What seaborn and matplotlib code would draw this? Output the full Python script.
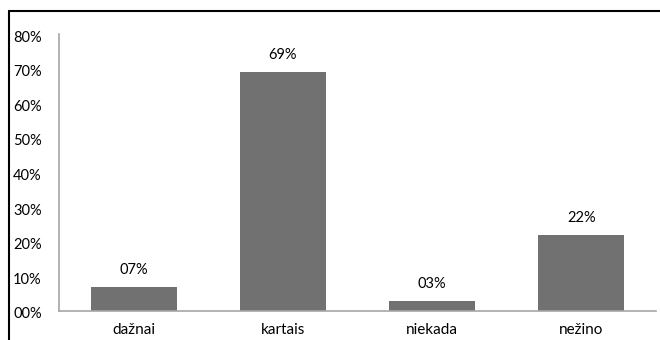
import matplotlib
matplotlib.use("Agg")
import matplotlib.pyplot as plt
import matplotlib.lines as mlines
import matplotlib.transforms as mtransforms
import seaborn as sns
import pandas as pd

categories = ["dažnai", "kartais", "niekada", "nežino"]
values = [0.07, 0.69, 0.03, 0.22]
value_labels = ["07%", "69%", "03%", "22%"]
ytick_values = [0.0, 0.1, 0.2, 0.3, 0.4, 0.5, 0.6, 0.7, 0.8]
ytick_labels = ["00%", "10%", "20%", "30%", "40%", "50%", "60%", "70%", "80%"]

sns.set_theme(style="white")
plt.rcParams["font.family"] = ["Lato", "DejaVu Sans"]

df = pd.DataFrame({"cat": categories, "val": values})

fig = plt.figure(figsize=(6.6, 3.4), dpi=100)
ax = fig.add_axes([59 / 660, 1 - 311 / 340, (656 - 59) / 660, (311 - 34) / 340])

sns.barplot(data=df, x="cat", y="val", color="#717171", saturation=1,
            width=0.575, ax=ax)
for p in ax.patches:
    p.set_edgecolor("none")

ax.set_xlim(-0.5, 3.5)
ax.set_ylim(0, 0.8)
ax.set_yticks(ytick_values)
ax.set_yticklabels(ytick_labels)
ax.set_xlabel("")
ax.set_ylabel("")

for spine in ["top", "right"]:
    ax.spines[spine].set_visible(False)
for spine in ["left", "bottom"]:
    ax.spines[spine].set_color("#a6a6a6")
    ax.spines[spine].set_linewidth(1.2)

ax.tick_params(axis="y", length=0, pad=12, labelsize=10.5, labelcolor="#000000")
ax.tick_params(axis="x", length=0, pad=9, labelsize=11, labelcolor="#000000")
shift = mtransforms.ScaledTranslation(0, -2 / 100, fig.dpi_scale_trans)
for lab in ax.get_yticklabels():
    lab.set_horizontalalignment("left")
    lab.set_x(-46 / 597)
    lab.set_transform(ax.get_yaxis_transform() + shift)

for i, (v, t) in enumerate(zip(values, value_labels)):
    ax.annotate(t, xy=(i, v), xytext=(0, 7), textcoords="offset points",
                ha="center", va="bottom", fontsize=10.5, color="#000000")

# outer frame (top and left lines)
fig.add_artist(mlines.Line2D([9 / 660, 1.0], [1 - 11 / 340, 1 - 11 / 340],
                             transform=fig.transFigure, color="black", linewidth=1.5))
fig.add_artist(mlines.Line2D([9 / 660, 9 / 660], [0.0, 1 - 11 / 340],
                             transform=fig.transFigure, color="black", linewidth=1.5))

fig.savefig("out.png", dpi=100)
